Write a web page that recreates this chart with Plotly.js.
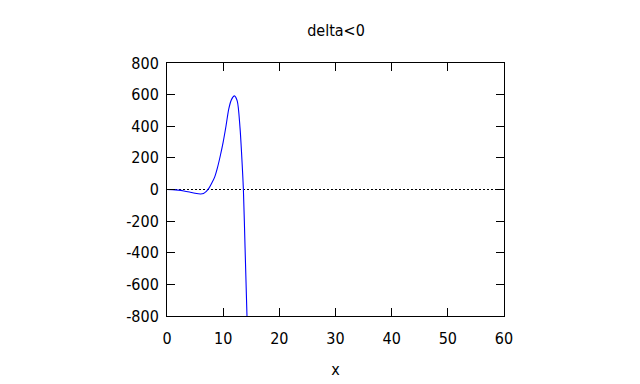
<!DOCTYPE html>
<html>
<head>
<meta charset="utf-8">
<script src="https://cdn.plot.ly/plotly-3.0.1.min.js"></script>
<style>html,body{margin:0;padding:0;background:#fff;}#chart{width:640px;height:384px;}</style>
</head>
<body>
<div id="chart"></div>
<script>
// Curve
const xVals = [0, 1, 2, 3, 4, 5, 6, 6.5, 7, 7.5, 8, 8.5, 9, 9.5, 10, 10.5, 11, 11.5, 12, 12.5, 13, 13.3, 13.6, 13.9, 14.24];
const yVals = [0, -1, -4, -9, -16, -24, -28, -25, -12, 10, 42, 80, 140, 215, 300, 400, 510, 570, 592, 560, 390, 215, 0, -370, -800];
// Zero reference line
const zeroX = [0, 60];
const zeroY = [0, 0];
// Axis ticks
const xTicks = [0, 10, 20, 30, 40, 50, 60];
const xTickText = ["0", "10", "20", "30", "40", "50", "60"];
const yTicks = [-800, -600, -400, -200, 0, 200, 400, 600, 800];
const yTickText = ["-800", "-600", "-400", "-200", "0", "200", "400", "600", "800"];

const font = {family: "DejaVu Sans Condensed, DejaVu Sans, Verdana, sans-serif", size: 16, color: "#000"};

const traces = [
  {x: zeroX, y: zeroY, mode: "lines", line: {color: "#000", width: 1, dash: "2px,2px"}, hoverinfo: "skip", showlegend: false},
  {x: xVals, y: yVals, mode: "lines", line: {color: "#0000ff", width: 1.1, shape: "spline", smoothing: 0.8}, showlegend: false}
];

const layout = {
  width: 640, height: 384,
  margin: {l: 167, r: 136, t: 63, b: 68},
  paper_bgcolor: "#fff", plot_bgcolor: "#fff",
  font: font,
  title: {text: "delta<0", font: font, x: 0.525, xanchor: "center", yref: "container", y: 0.922, yanchor: "middle"},
  xaxis: {
    range: [0, 60], tickvals: xTicks, ticktext: xTickText,
    ticks: "inside", ticklen: 8, tickwidth: 1, tickcolor: "#000",
    showline: true, linecolor: "#000", linewidth: 1, mirror: "ticks",
    showgrid: false, zeroline: false, fixedrange: true,
    ticklabelstandoff: 8,
    title: {text: "x", font: font, standoff: 16},
    tickfont: font
  },
  yaxis: {
    range: [-800, 800], tickvals: yTicks, ticktext: yTickText,
    ticks: "inside", ticklen: 8, tickwidth: 1, tickcolor: "#000",
    showline: true, linecolor: "#000", linewidth: 1, mirror: "ticks",
    showgrid: false, zeroline: false, fixedrange: true,
    ticklabelstandoff: 4,
    tickfont: font
  },
  showlegend: false
};

Plotly.newPlot("chart", traces, layout, {staticPlot: true, displayModeBar: false});
</script>
</body>
</html>
